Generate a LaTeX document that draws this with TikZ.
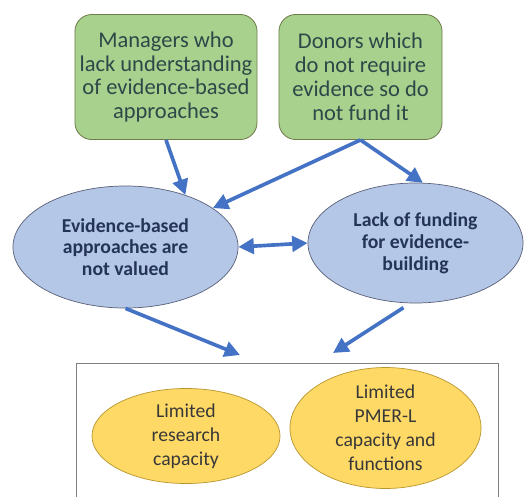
\documentclass[tikz,border=0pt]{standalone}
\usepackage{fontspec}
\setmainfont{Carlito}
\usepackage{tikz}
\usetikzlibrary{arrows.meta,shapes.geometric}

\definecolor{boxgreen}{HTML}{A9D18E}
\definecolor{greenline}{HTML}{6E7C4A}
\definecolor{greentext}{HTML}{2E4848}
\definecolor{ellblue}{HTML}{B4C7E7}
\definecolor{blueline}{HTML}{5A6078}
\definecolor{bluetext}{HTML}{243457}
\definecolor{ellyellow}{HTML}{FFD966}
\definecolor{yellowline}{HTML}{B8962E}
\definecolor{yellowtext}{HTML}{383838}
\definecolor{arrblue}{HTML}{4472C4}
\definecolor{framegray}{HTML}{7F7F7F}

\begin{document}
\begin{tikzpicture}[x=0.025cm, y=-0.025cm,
  cause/.style={draw=greenline, fill=boxgreen, rounded corners=12pt, line width=0.6pt, minimum width=#1, minimum height=3.125cm, align=center, text=greentext, font=\fontsize{16}{17}\selectfont},
  effect/.style={ellipse, draw=blueline, fill=ellblue, line width=0.5pt, inner sep=0pt, align=center, text=bluetext, font=\fontsize{14}{15.5}\selectfont\bfseries},
  outcome/.style={ellipse, draw=yellowline, fill=ellyellow, line width=0.5pt, inner sep=0pt, align=center, text=yellowtext, font=\fontsize{14}{17}\selectfont},
  arr/.style={-{Triangle[length=11pt,width=11pt]}, line width=2.6pt, draw=arrblue},
  both/.style={{Triangle[length=11pt,width=11pt]}-{Triangle[length=11pt,width=11pt]}, line width=2.6pt, draw=arrblue},
]
\useasboundingbox (0,0) rectangle (528,496);
\clip (0,0) rectangle (528,496);
% Causes
\node[cause=4.525cm] (managers) at (166,77) {Managers who\\lack understanding\\of evidence-based\\approaches};
\node[cause=4.075cm] (donors) at (360.5,77) {Donors which\\do not require\\evidence so do\\not fund it};
% Problems
\node[effect, minimum width=5.625cm, minimum height=3.05cm] (valued) at (125.5,247) {Evidence-based\\approaches are\\not valued};
\node[effect, minimum width=5.375cm, minimum height=3.0cm] (funding) at (415.5,243) {Lack of funding\\for evidence-\\building};
% Consequences
\node[draw=framegray, fill=white, line width=0.6pt, minimum width=10.55cm, minimum height=3.925cm] (impact) at (287,441.5) {};
\node[outcome, minimum width=4.7cm, minimum height=2.375cm] (research) at (186,436) {Limited\\research\\capacity};
\node[outcome, minimum width=4.775cm, minimum height=2.9cm] (pmerl) at (385.5,428) {Limited\\PMER-L\\capacity and\\functions};
\coordinate (inleft) at (240,355);
\coordinate (inright) at (333,353);
% Links
\draw[arr] (managers.south) -- (valued.41);
\draw[arr] (donors.south) -- (funding.83);
\draw[arr] (donors.south) -- (valued.24);
\draw[both] (valued.east) -- (funding.west);
\draw[arr] (valued.south) -- (inleft);
\draw[arr, shorten <=0.2cm] (funding.265) -- (inright);
\end{tikzpicture}
\end{document}
